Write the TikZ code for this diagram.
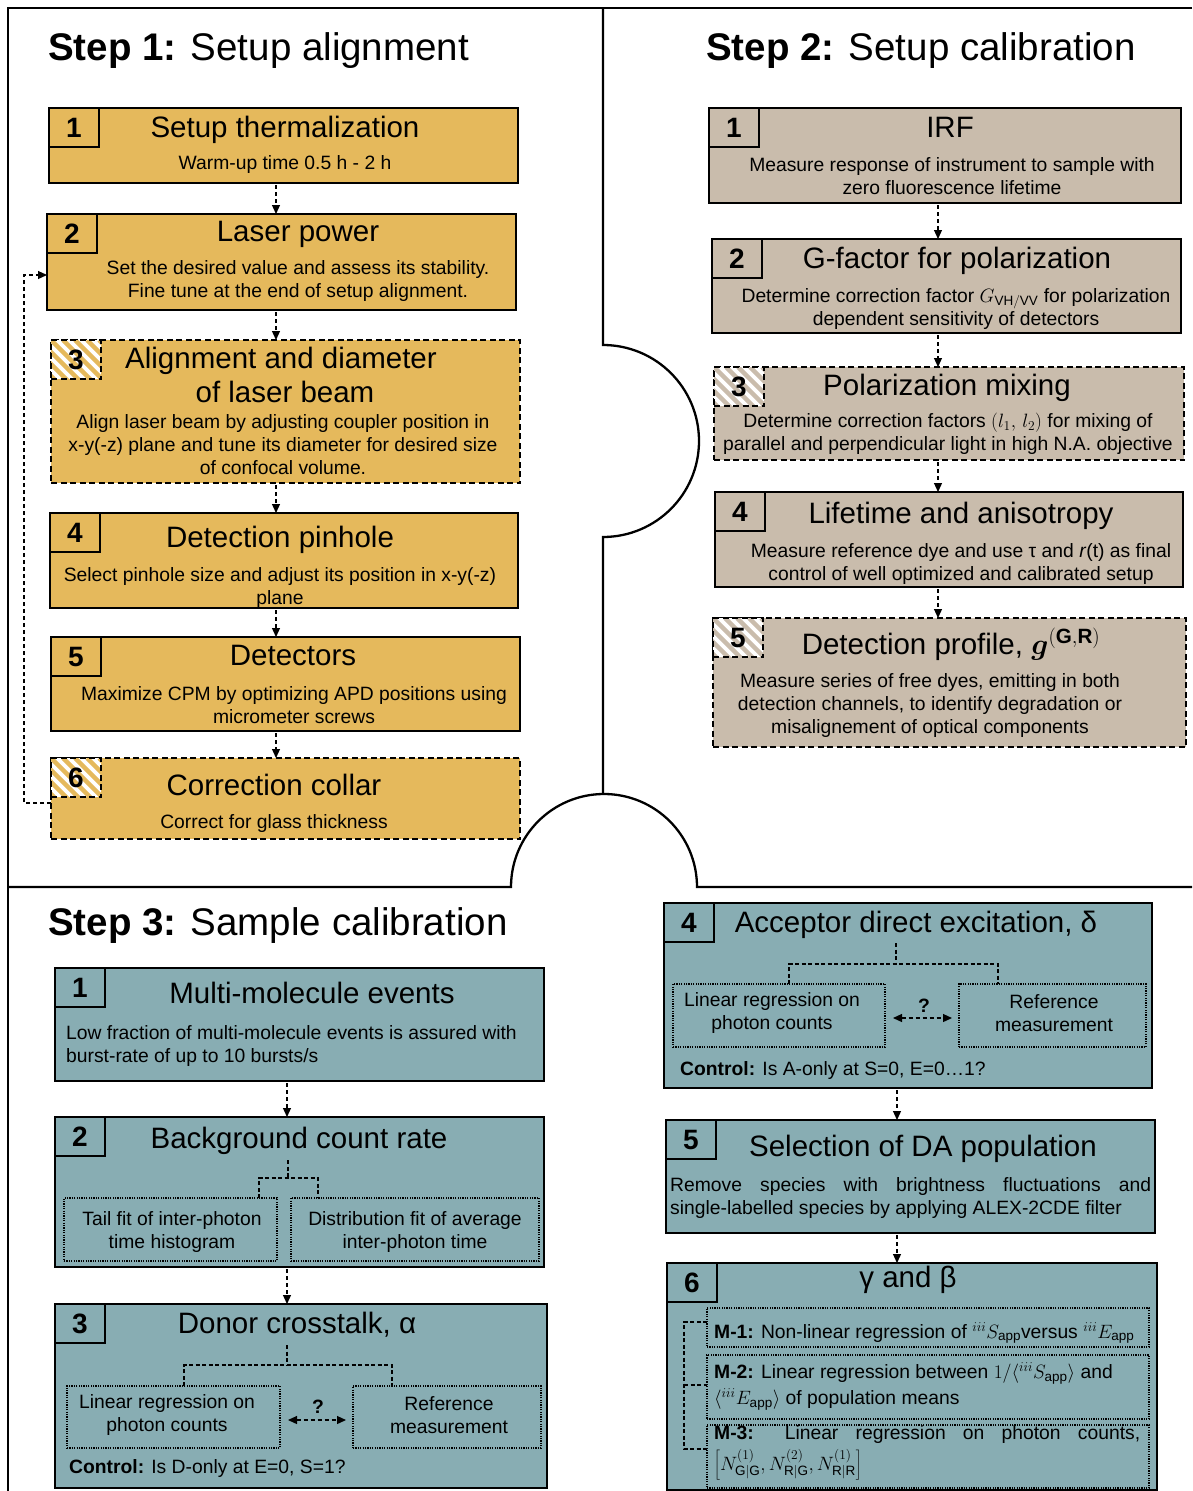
\RequirePackage{fix-cm}
\documentclass[tikz,border=0pt]{standalone}
\usepackage{fontspec}
\setmainfont{Liberation Sans}
\usepackage{bm}
\usetikzlibrary{arrows.meta}
\definecolor{sgold}{HTML}{E5B95C}
\definecolor{stan}{HTML}{C9BCAC}
\definecolor{steal}{HTML}{88ADB3}
\newcommand{\stHead}{\fontsize{38.5}{46}\selectfont}
\newcommand{\stTitle}{\fontsize{29.5}{34}\selectfont}
\newcommand{\stBody}{\fontsize{19.3}{23}\selectfont}
\newcommand{\stNum}{\fontsize{28}{34}\selectfont\bfseries}

\begin{document}
\begin{tikzpicture}[x=1pt, y=-1pt, >={Triangle[length=9pt,width=8pt]},
  frame/.style={line width=2.3pt},
  card/.style={draw, line width=2pt, inner sep=0pt, outer sep=0pt, anchor=north west},
  optional/.style={dash pattern=on 6pt off 3.5pt},
  numbox/.style={draw, line width=2pt, inner sep=0pt, outer sep=0pt, anchor=north west,
    minimum width=50pt, minimum height=39pt, font=\stNum},
  hatched/.style={fill=white, optional, path picture={
    \foreach \k in {-48,-36,...,48}
      \draw[#1, solid, line width=4.5pt] ([xshift=\k pt]path picture bounding box.north west) -- ++(50pt,-50pt);}},
  head/.style={font=\stHead, anchor=base west, inner sep=0pt},
  ttl/.style={font=\stTitle, anchor=base, inner sep=0pt},
  body/.style={font=\stBody, align=center, anchor=north, inner sep=0pt, yshift=16.1pt},
  lbody/.style={body, align=left, anchor=north west},
  note/.style={font=\stBody, anchor=base west, inner sep=0pt},
  sub/.style={draw, line width=1.2pt, dash pattern=on 1.2pt off 1.2pt, inner sep=0pt,
    outer sep=0pt, anchor=north west},
  flow/.style={->, line width=1.2pt, dash pattern=on 4pt off 3pt},
  twoway/.style={<->, line width=1.2pt, dash pattern=on 4pt off 3pt},
  branch/.style={line width=1.1pt, dash pattern=on 4pt off 2.5pt}]
  \useasboundingbox (0,0) rectangle (1192,1491);

  % ---------- step 1: setup alignment ----------
  \node[head] (h1) at (48,60) {\textbf{Step 1:} Setup alignment};

  \node[card, fill=sgold, minimum width=469pt, minimum height=75pt] (s1a) at (49,108) {};
  \node[numbox] (s1a-n) at (s1a.north west) {1};
  \node[ttl] (s1a-t) at (285,137) {Setup thermalization};
  \node[body] (s1a-b) at (285,169) {\strut Warm-up time 0.5 h - 2 h};

  \node[card, fill=sgold, minimum width=469pt, minimum height=96pt] (s1b) at (47,214) {};
  \node[numbox] (s1b-n) at (s1b.north west) {2};
  \node[ttl] (s1b-t) at (298,241) {Laser power};
  \node[body] (s1b-b) at (298,274) {\strut Set the desired value and assess its stability.\\
    Fine tune at the end of setup alignment.};

  \node[card, optional, fill=sgold, minimum width=469pt, minimum height=143pt] (s1c) at (51,340) {};
  \node[numbox, hatched=sgold] (s1c-n) at (s1c.north west) {3};
  \node[ttl] (s1c-t) at (281,368) {Alignment and diameter};
  \node[ttl] (s1c-u) at (285,402) {of laser beam};
  \node[body] (s1c-b) at (283,428) {\strut Align laser beam by adjusting coupler position in\\
    x-y(-z) plane and tune its diameter for desired size\\ of confocal volume.};

  \node[card, fill=sgold, minimum width=468pt, minimum height=95pt] (s1d) at (50,513) {};
  \node[numbox] (s1d-n) at (s1d.north west) {4};
  \node[ttl] (s1d-t) at (280,547) {Detection pinhole};
  \node[body] (s1d-b) at (280,581) {\strut Select pinhole size and adjust its position in x-y(-z)\\ plane};

  \node[card, fill=sgold, minimum width=469pt, minimum height=94pt] (s1e) at (51,637) {};
  \node[numbox] (s1e-n) at (s1e.north west) {5};
  \node[ttl] (s1e-t) at (293,665) {Detectors};
  \node[body] (s1e-b) at (294,700) {\strut Maximize CPM by optimizing APD positions using\\ micrometer screws};

  \node[card, optional, fill=sgold, minimum width=469pt, minimum height=81pt] (s1f) at (51,758) {};
  \node[numbox, hatched=sgold] (s1f-n) at (s1f.north west) {6};
  \node[ttl] (s1f-t) at (274,795) {Correction collar};
  \node[body] (s1f-b) at (274,828) {\strut Correct for glass thickness};

  \coordinate (c1) at (276,0);
  \foreach \a/\b in {s1a/s1b, s1b/s1c, s1c/s1d, s1d/s1e, s1e/s1f}
    \draw[flow, shorten <=2pt] (\a.south -| c1) -- (\b.north -| c1);

  % back to the laser power
  \coordinate (loop) at (24,275);
  \draw[flow] ([yshift=-4.5pt]s1f.west) -| (loop) -- (s1b.west |- loop);

  % ---------- step 2: setup calibration ----------
  \node[head] (h2) at (706,60) {\textbf{Step 2:} Setup calibration};

  \node[card, fill=stan, minimum width=472pt, minimum height=95pt] (s2a) at (709,108) {};
  \node[numbox] (s2a-n) at (s2a.north west) {1};
  \node[ttl] (s2a-t) at (950,137) {IRF};
  \node[body] (s2a-b) at (952,171) {\strut Measure response of instrument to sample with\\
    zero fluorescence lifetime};

  \node[card, fill=stan, minimum width=469pt, minimum height=94pt] (s2b) at (712,239) {};
  \node[numbox] (s2b-n) at (s2b.north west) {2};
  \node[ttl] (s2b-t) at (957,268) {G-factor for polarization};
  \node[body] (s2b-b) at (956,302) {\strut Determine correction factor $G_{\mathrm{VH/VV}}$ for polarization\\
    dependent sensitivity of detectors};

  \node[card, optional, fill=stan, minimum width=470pt, minimum height=93pt] (s2c) at (714,367) {};
  \node[numbox, hatched=stan] (s2c-n) at (s2c.north west) {3};
  \node[ttl] (s2c-t) at (947,395) {Polarization mixing};
  \node[body] (s2c-b) at (948,427) {\strut Determine correction factors $(l_1,\,l_2)$ for mixing of\\
    parallel and perpendicular light in high N.A. objective};

  \node[card, fill=stan, minimum width=468pt, minimum height=95pt] (s2d) at (715,492) {};
  \node[numbox] (s2d-n) at (s2d.north west) {4};
  \node[ttl] (s2d-t) at (961,523) {Lifetime and anisotropy};
  \node[body] (s2d-b) at (961,557) {\strut Measure reference dye and use τ and \textit{r}(t) as final\\
    control of well optimized and calibrated setup};

  \node[card, optional, fill=stan, minimum width=473pt, minimum height=129pt] (s2e) at (713,618) {};
  \node[numbox, hatched=stan] (s2e-n) at (s2e.north west) {5};
  \node[ttl] (s2e-t) at (951,654) {Detection profile, $\bm{g}^{\mathbf{(G,R)}}$};
  \node[body] (s2e-b) at (930,687) {\strut Measure series of free dyes, emitting in both\\
    detection channels, to identify degradation or\\ misalignement of optical components};

  \coordinate (c2) at (938,0);
  \foreach \a/\b in {s2a/s2b, s2b/s2c, s2c/s2d, s2d/s2e}
    \draw[flow, shorten <=2pt] (\a.south -| c2) -- (\b.north -| c2);

  % ---------- step 3: sample calibration ----------
  \node[head] (h3) at (48,935) {\textbf{Step 3:} Sample calibration};

  \node[card, fill=steal, minimum width=489pt, minimum height=113pt] (s3a) at (55,968) {};
  \node[numbox] (s3a-n) at (s3a.north west) {1};
  \node[ttl] (s3a-t) at (312,1003) {Multi-molecule events};
  \node[lbody] (s3a-b) at (66,1039) {\strut Low fraction of multi-molecule events is assured with\\
    burst-rate of up to 10 bursts/s};

  \node[card, fill=steal, minimum width=489pt, minimum height=150pt] (s3b) at (55,1117) {};
  \node[numbox] (s3b-n) at (s3b.north west) {2};
  \node[ttl] (s3b-t) at (299,1148) {Background count rate};
  \node[sub, minimum width=213pt, minimum height=63pt] (s3b-l) at (64,1198) {};
  \node[sub, minimum width=248pt, minimum height=63pt] (s3b-r) at (291,1198) {};
  \node[body] (s3b-lt) at (172,1225) {\strut Tail fit of inter-photon\\ time histogram};
  \node[body] (s3b-rt) at (415,1225) {\strut Distribution fit of average\\ inter-photon time};
  \coordinate (s3b-stem) at (288,1160);
  \coordinate (s3b-fork) at (288,1178);
  \coordinate (s3b-fl) at (259,1178);
  \coordinate (s3b-fr) at (318,1178);
  \draw[branch] (s3b-stem) -- (s3b-fork);
  \draw[branch] (s3b-fl |- s3b-l.north) -- (s3b-fl) -- (s3b-fr) -- (s3b-fr |- s3b-r.north);

  \node[card, fill=steal, minimum width=492pt, minimum height=184pt] (s3c) at (55,1304) {};
  \node[numbox] (s3c-n) at (s3c.north west) {3};
  \node[ttl] (s3c-t) at (297,1333) {Donor crosstalk, α};
  \node[sub, minimum width=213pt, minimum height=62pt] (s3c-l) at (67,1386) {};
  \node[sub, minimum width=188pt, minimum height=62pt] (s3c-r) at (353,1386) {};
  \node[body] (s3c-lt) at (167,1408) {\strut Linear regression on\\ photon counts};
  \node[body] (s3c-rt) at (449,1410) {\strut Reference\\ measurement};
  \coordinate (s3c-stem) at (287,1345);
  \coordinate (s3c-fork) at (287,1365);
  \coordinate (s3c-fl) at (184,1365);
  \coordinate (s3c-fr) at (392,1365);
  \draw[branch] (s3c-stem) -- (s3c-fork);
  \draw[branch] (s3c-fl |- s3c-l.north) -- (s3c-fl) -- (s3c-fr) -- (s3c-fr |- s3c-r.north);
  \node[font=\stBody\bfseries, anchor=base, inner sep=0pt] (s3c-q) at (318,1413) {?};
  \coordinate (s3c-ax) at (0,1420);
  \draw[twoway, shorten <=8pt, shorten >=7pt] (s3c-l.east |- s3c-ax) -- (s3c-r.west |- s3c-ax);
  \node[note] (s3c-c) at (69,1473) {\textbf{Control:} Is D-only at E=0, S=1?};

  \node[card, fill=steal, minimum width=488pt, minimum height=185pt] (s3d) at (664,903) {};
  \node[numbox] (s3d-n) at (s3d.north west) {4};
  \node[ttl] (s3d-t) at (916,932) {Acceptor direct excitation, δ};
  \node[sub, minimum width=212pt, minimum height=63pt] (s3d-l) at (673,984) {};
  \node[sub, minimum width=187pt, minimum height=63pt] (s3d-r) at (959,984) {};
  \node[body] (s3d-lt) at (772,1006) {\strut Linear regression on\\ photon counts};
  \node[body] (s3d-rt) at (1054,1008) {\strut Reference\\ measurement};
  \coordinate (s3d-stem) at (896,943);
  \coordinate (s3d-fork) at (896,964);
  \coordinate (s3d-fl) at (789,964);
  \coordinate (s3d-fr) at (998,964);
  \draw[branch] (s3d-stem) -- (s3d-fork);
  \draw[branch] (s3d-fl |- s3d-l.north) -- (s3d-fl) -- (s3d-fr) -- (s3d-fr |- s3d-r.north);
  \node[font=\stBody\bfseries, anchor=base, inner sep=0pt] (s3d-q) at (924,1012) {?};
  \coordinate (s3d-ax) at (0,1018);
  \draw[twoway, shorten <=8pt, shorten >=7pt] (s3d-l.east |- s3d-ax) -- (s3d-r.west |- s3d-ax);
  \node[note] (s3d-c) at (680,1075) {\textbf{Control:} Is A-only at S=0, E=0…1?};

  \node[card, fill=steal, minimum width=489pt, minimum height=113pt] (s3e) at (666,1120) {};
  \node[numbox] (s3e-n) at (s3e.north west) {5};
  \node[ttl] (s3e-t) at (923,1156) {Selection of DA population};
  \node[lbody] (s3e-b) at (670,1191) {\strut\makebox[481pt][s]{Remove species with brightness fluctuations and}\\
    single-labelled species by applying ALEX-2CDE filter};

  \node[card, fill=steal, minimum width=490pt, minimum height=227pt] (s3f) at (667,1263) {};
  \node[numbox] (s3f-n) at (s3f.north west) {6};
  \node[ttl] (s3f-t) at (908,1287) {γ and β};
  \node[sub, minimum width=442pt, minimum height=39pt] (s3f-m1) at (707,1308) {};
  \node[sub, minimum width=442pt, minimum height=64pt] (s3f-m2) at (707,1355) {};
  \node[sub, minimum width=442pt, minimum height=63pt] (s3f-m3) at (707,1425) {};
  \node[note] (s3f-t1) at (714,1338) {\textbf{M-1:} Non-linear regression of ${}^{iii}S_{\mathrm{app}}$versus ${}^{iii}E_{\mathrm{app}}$};
  \node[lbody] (s3f-t2) at (714,1378) {\strut\textbf{M-2:} Linear regression between $1/\langle {}^{iii}S_{\mathrm{app}}\rangle$ and\\[3pt]
    $\langle {}^{iii}E_{\mathrm{app}}\rangle$ of population means};
  \node[note] (s3f-t3) at (714,1439) {\makebox[426pt][s]{\textbf{M-3:} Linear regression on photon counts,}};
  \node[note] (s3f-t4) at (714,1470) {$\left[N^{(1)}_{\mathrm{G}|\mathrm{G}}, N^{(2)}_{\mathrm{R}|\mathrm{G}}, N^{(1)}_{\mathrm{R}|\mathrm{R}}\right]$};
  \coordinate (s3f-k1) at (684,1322);
  \coordinate (s3f-k2) at (684,1385);
  \coordinate (s3f-k3) at (684,1449);
  \draw[branch] (s3f-k1 -| s3f-m1.west) -- (s3f-k1) -- (s3f-k3) -- (s3f-k3 -| s3f-m3.west);
  \draw[branch] (s3f-k2) -- (s3f-k2 -| s3f-m2.west);

  \coordinate (c3) at (287,0);
  \foreach \a/\b in {s3a/s3b, s3b/s3c}
    \draw[flow, shorten <=2pt] (\a.south -| c3) -- (\b.north -| c3);
  \coordinate (c4) at (897,0);
  \foreach \a/\b in {s3d/s3e, s3e/s3f}
    \draw[flow, shorten <=2pt] (\a.south -| c4) -- (\b.north -| c4);

  % ---------- puzzle frame ----------
  \draw[frame] (1192,8) -- (8,8) -- (8,1491);
  \draw[frame] (603,8) -- (603,345) arc[start angle=90, end angle=-90, radius=96pt] -- (603,794);
  \draw[frame] (8,887) -- (511,887) arc[start angle=180, end angle=0, radius=93pt] -- (1192,887);
\end{tikzpicture}
\end{document}
